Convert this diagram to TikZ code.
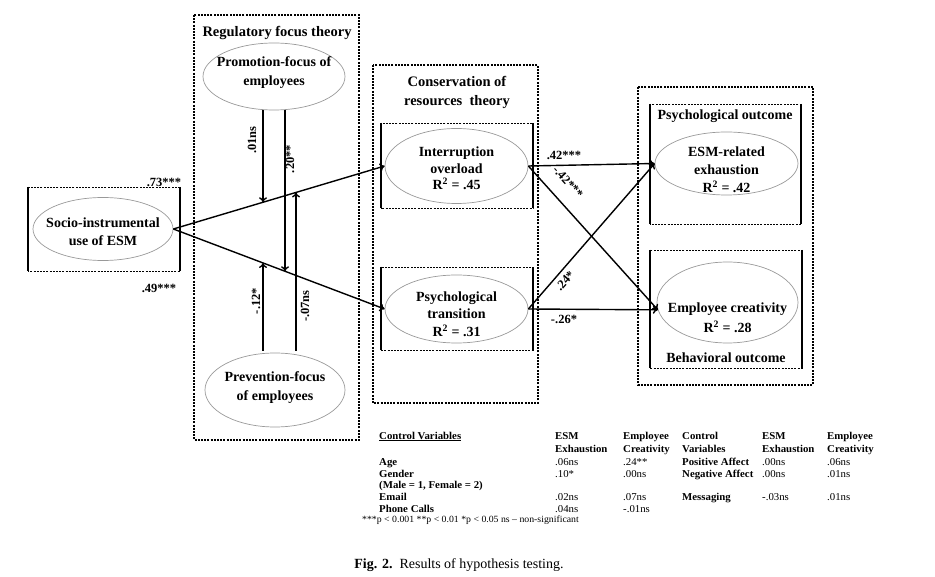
\documentclass[tikz,border=0pt]{standalone}
\usepackage{fontspec}
\setmainfont{Liberation Serif}
\newfontfamily\tabfont[FakeStretch=1.03,Ligatures=TeX]{Liberation Serif}
\usetikzlibrary{shapes.geometric,arrows.meta}
\newcommand\mixbox[4]{%
  \draw[dbox,line width=0.9pt] (#1,#2) rectangle (#3,#4);
  \draw[sside] (#1,#2) -- (#1,#4) (#3,#2) -- (#3,#4);}
\begin{document}
\begin{tikzpicture}[x=1pt,y=-1pt,
  ell/.style={ellipse,draw=black!40,line width=0.7pt,inner sep=0pt},
  etxt/.style={inner sep=0pt,align=center,font=\fontsize{14}{18}\selectfont\bfseries},
  dbox/.style={draw,line width=1.1pt,dash pattern=on 2pt off 1.2pt},
  sside/.style={line width=1.2pt},
  arr/.style={line width=1.4pt,-{To[length=5pt,width=8pt]}},
  lab/.style={font=\fontsize{12.5}{14}\selectfont\bfseries,inner sep=0pt},
  ttl/.style={inner sep=0pt,align=center,font=\fontsize{14.5}{19}\selectfont\bfseries},
  tb/.style={font=\tabfont\fontsize{10.5}{12}\selectfont\bfseries,anchor=base west,inner sep=0pt},
  tr/.style={font=\tabfont\fontsize{10.5}{12}\selectfont,anchor=base west,inner sep=0pt},
]
\useasboundingbox (0,0) rectangle (935,577);

% ---------- frames ----------
\mixbox{28}{187}{180}{271}
\draw[dbox] (194,15) rectangle (359,440);
\draw[dbox] (373,65) rectangle (538,403);
\draw[dbox] (638,87) rectangle (813,385);
\mixbox{381}{123}{533}{208}
\mixbox{381}{267}{533}{350}
\mixbox{650}{104}{801}{224}
\mixbox{650}{250}{802}{368}

% ---------- titles ----------
\node[ttl] (trf) at (277,33) {Regulatory focus theory};
\node[ttl] (tcor) at (457,92.5) {Conservation of\\resources\ \ theory};
\node[ttl,font=\fontsize{14}{19}\selectfont\bfseries] (tpo) at (725,116) {Psychological outcome};
\node[ttl,font=\fontsize{14}{19}\selectfont\bfseries] (tbo) at (726,358) {Behavioral outcome};

% ---------- ellipses ----------
\node[ell,minimum width=140pt,minimum height=63pt] (socio) at (103,229) {};
\node[etxt] (socioT) at (103,232) {Socio-instrumental\\use of ESM};
\node[ell,minimum width=142pt,minimum height=67pt] (prom) at (274,76.5) {};
\node[etxt,font=\fontsize{14}{19}\selectfont\bfseries] (promT) at (274,72.5) {Promotion-focus of\\employees};
\node[ell,minimum width=140pt,minimum height=74pt] (prev) at (275,390) {};
\node[etxt,font=\fontsize{14}{19}\selectfont\bfseries] (prevT) at (275,387.5) {Prevention-focus\\of employees};
\node[ell,minimum width=143pt,minimum height=75pt] (intr) at (456.5,166) {};
\node[etxt,font=\fontsize{14}{16.5}\selectfont\bfseries] (intrT) at (456.5,168.5) {Interruption\\overload\\R\textsuperscript{2} = .45};
\node[ell,minimum width=143pt,minimum height=68pt] (psy) at (456.5,309) {};
\node[etxt,font=\fontsize{14}{17.5}\selectfont\bfseries] (psyT) at (456.5,314) {Psychological\\transition\\R\textsuperscript{2} = .31};
\node[ell,minimum width=143pt,minimum height=63pt] (esm) at (726.5,163.5) {};
\node[etxt,font=\fontsize{14}{18}\selectfont\bfseries] (esmT) at (726.5,170) {ESM-related\\exhaustion\\R\textsuperscript{2} = .42};
\node[ell,minimum width=141pt,minimum height=81pt] (cre) at (727.5,302.5) {};
\node[etxt,font=\fontsize{14}{20}\selectfont\bfseries] (creT) at (727.5,318) {Employee creativity\\R\textsuperscript{2} = .28};

% ---------- main paths ----------
\draw[arr] (socio.east) -- (intr.west);
\draw[arr] (socio.east) -- (psy.west);
\draw[arr] (intr.east) -- (esm.west);
\draw[arr] (intr.east) -- (cre.186);
\draw[arr] (psy.east) -- (esm.west);
\draw[arr] (psy.east) -- (cre.186);

% ---------- moderation arrows ----------
\coordinate (u1) at (intersection of socio.east--intr.west and 263,0--263,500);
\coordinate (u2) at (intersection of socio.east--intr.west and 296,0--296,500);
\coordinate (l1) at (intersection of socio.east--psy.west and 263,0--263,500);
\coordinate (l2) at (intersection of socio.east--psy.west and 285,0--285,500);
\draw[arr] (prom.south -| u1) -- (u1);
\draw[arr] (prom.south -| l2) -- (l2);
\draw[arr] ([yshift=2pt]prev.north -| u2) -- (u2);
\draw[arr] ([yshift=2pt]prev.north -| l1) -- (l1);

% ---------- labels ----------
\node[lab] (b73) at (164,182) {.73***};
\node[lab] (b49) at (159,288) {.49***};
\node[lab,rotate=90] (b01) at (252,140) {.01ns};
\node[lab,rotate=90] (b20) at (290,159) {.20**};
\node[lab,rotate=90] (b12) at (256,301) {-.12*};
\node[lab,rotate=90] (b07) at (305,306) {-.07ns};
\node[lab] (b42) at (564,155) {.42***};
\node[lab,rotate=-48] (bm42) at (568,182) {-.42***};
\node[lab,rotate=48] (b24) at (565,281) {.24*};
\node[lab] (b26) at (564,319) {-.26*};

% ---------- table ----------
\node[tb] (h0) at (379,439) {\underline{Control Variables}};
\node[tb] (h1) at (555,439) {ESM};
\node[tb] (h1b) at (555,452) {Exhaustion};
\node[tb] (h2) at (623,439) {Employee};
\node[tb] (h2b) at (623,452) {Creativity};
\node[tb] (h3) at (682,439) {Control};
\node[tb] (h3b) at (682,452) {Variables};
\node[tb] (h4) at (762,439) {ESM};
\node[tb] (h4b) at (762,452) {Exhaustion};
\node[tb] (h5) at (827,439) {Employee};
\node[tb] (h5b) at (827,452) {Creativity};

\node[tb] (r1) at (379,465) {Age};
\node[tr] (r1a) at (555,465) {.06ns};
\node[tr] (r1b) at (623,465) {.24**};
\node[tb] (r1c) at (682,465) {Positive Affect};
\node[tr] (r1d) at (762,465) {.00ns};
\node[tr] (r1e) at (827,465) {.06ns};

\node[tb] (r2) at (379,477) {Gender};
\node[tr] (r2a) at (555,477) {.10*};
\node[tr] (r2b) at (623,477) {.00ns};
\node[tb] (r2c) at (682,477) {Negative Affect};
\node[tr] (r2d) at (762,477) {.00ns};
\node[tr] (r2e) at (827,477) {.01ns};

\node[tb] (r3) at (379,488.5) {(Male = 1, Female = 2)};

\node[tb] (r4) at (379,500) {Email};
\node[tr] (r4a) at (555,500) {.02ns};
\node[tr] (r4b) at (623,500) {.07ns};
\node[tb] (r4c) at (682,500) {Messaging};
\node[tr] (r4d) at (762,500) {-.03ns};
\node[tr] (r4e) at (827,500) {.01ns};

\node[tb] (r5) at (379,512) {Phone Calls};
\node[tr] (r5a) at (555,512) {.04ns};
\node[tr] (r5b) at (623,512) {-.01ns};

\node[tr,font=\tabfont\fontsize{9.5}{11}\selectfont] (fn) at (362,522) {***p < 0.001 **p < 0.01 *p < 0.05 ns – non-significant};

% ---------- caption ----------
\node[inner sep=0pt,font=\fontsize{14}{15}\selectfont] (cap) at (459,565) {\textbf{Fig. 2.}\enspace Results of hypothesis testing.};
\end{tikzpicture}
\end{document}
